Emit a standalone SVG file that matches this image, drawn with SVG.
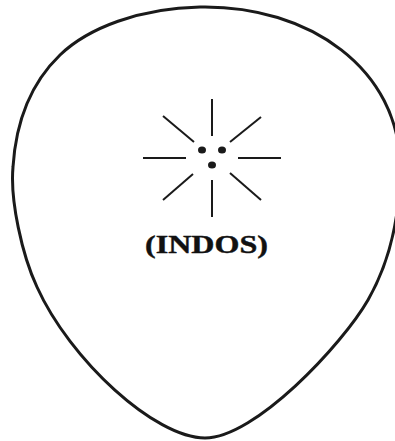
<svg xmlns="http://www.w3.org/2000/svg" width="395" height="441" viewBox="0 0 395 441">
<style>
.outline{fill:none;stroke:#1a1a1a;stroke-width:3}
.ray{stroke:#1a1a1a;stroke-width:2;stroke-linecap:butt}
.dot{fill:#1a1a1a}
.lbl{font-family:"Liberation Serif","Times New Roman",serif;font-weight:bold;font-size:25px;fill:#111;stroke:#111;stroke-width:0.4}
</style>
<rect width="395" height="441" fill="#fff"/>
<g id="outline">
<path class="outline" d="M200,7 C310,5 400,70 400,167 C400,220 388,265 368,300 C342,345 255,438 205,438 C155,438 70,360 37,287 C22,255 10,200 13,167 C16,120 32,82 60,55 C88,28 140,8 200,7 Z"/>
</g>
<g id="star">
<line class="ray" x1="212" y1="99" x2="212" y2="136"/>
<line class="ray" x1="212" y1="180" x2="212" y2="217"/>
<line class="ray" x1="143" y1="158" x2="186" y2="158"/>
<line class="ray" x1="238" y1="158" x2="281" y2="158"/>
<line class="ray" x1="163" y1="116" x2="194" y2="142"/>
<line class="ray" x1="261" y1="117" x2="230" y2="142"/>
<line class="ray" x1="163" y1="200" x2="193" y2="174"/>
<line class="ray" x1="230" y1="173" x2="261" y2="200"/>
<ellipse class="dot" cx="202" cy="150" rx="4" ry="3.5"/>
<ellipse class="dot" cx="222" cy="150" rx="4" ry="3.5"/>
<ellipse class="dot" cx="212" cy="165" rx="4" ry="3.5"/>
</g>
<g id="label">
<text class="lbl" x="145" y="253" textLength="123" lengthAdjust="spacingAndGlyphs">(INDOS)</text>
</g>
</svg>
